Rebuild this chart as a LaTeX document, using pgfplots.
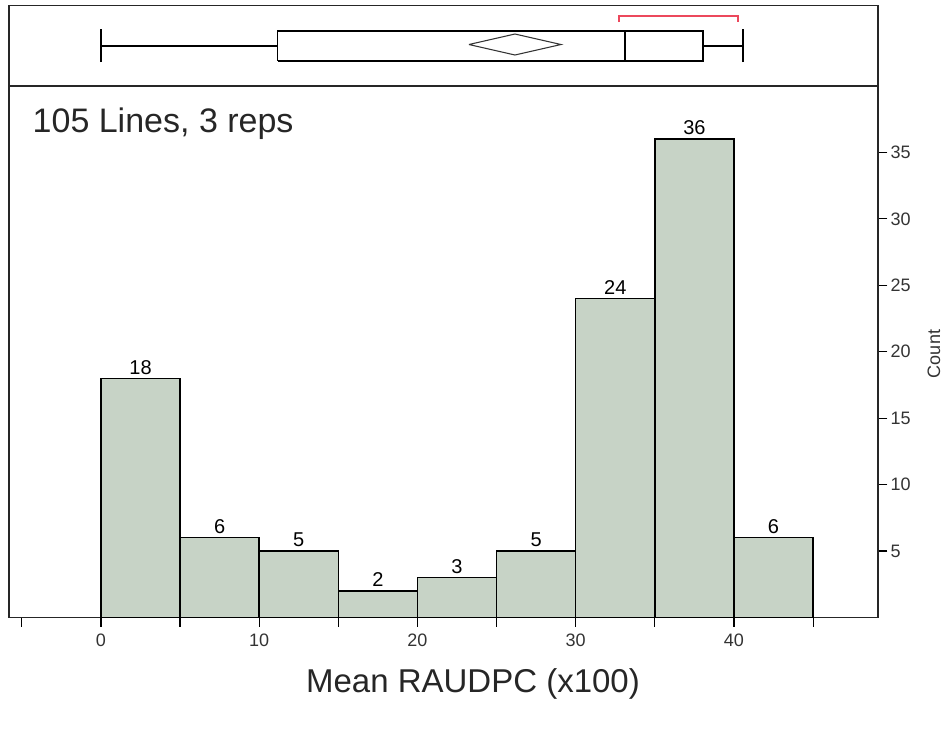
\documentclass[border=0pt]{standalone}
\usepackage{fontspec}
\setmainfont{Liberation Sans}
\usepackage{pgfplots}
\pgfplotsset{compat=1.18}
\definecolor{bargreen}{RGB}{199,211,198}
\definecolor{brk}{RGB}{236,72,92}
\newcommand\fs[1]{\fontsize{#1}{#1}\selectfont}

\begin{document}
\begin{tikzpicture}
\path[use as bounding box] (0,0) rectangle (710.25pt,549pt);

% histogram panel
\begin{axis}[
    at={(6.75pt,85.9pt)}, anchor=south west,
    width=651.75pt, height=398.6pt, scale only axis,
    xmin=-5.81, xmax=49.1, ymin=0, ymax=40,
    axis line style={black!85, line width=0.9pt},
    xtick={-5,0,...,45},
    xticklabels={,0,,10,,20,,30,,40,},
    ytick={5,10,...,35},
    xtick pos=bottom, ytick pos=right, yticklabel pos=right,
    tick align=outside, major tick length=7pt,
    tick style={black, line width=0.9pt},
    ticklabel style={font=\fs{13.5}, text=black!80},
    xticklabel style={yshift=-2pt},
    yticklabel style={xshift=-1pt},
    /pgf/number format/assume math mode=true,
    ybar, bar width=5, bar shift=0pt,
    nodes near coords,
    every node near coord/.append style={font=\fs{15}, inner sep=2.5pt, text=black},
]
\addplot[fill=bargreen, draw=black, line width=1.1pt] coordinates {
    (2.5,18)(7.5,6)(12.5,5)(17.5,2)(22.5,3)(27.5,5)(32.5,24)(37.5,36)(42.5,6)
};
\end{axis}

% box plot panel
\begin{axis}[
    at={(6.75pt,484.5pt)}, anchor=south west,
    width=651.75pt, height=60.2pt, scale only axis,
    xmin=-5.81, xmax=49.1, ymin=0, ymax=80.3,
    xtick=\empty, ytick=\empty,
    axis line style={black!85, line width=0.9pt},
]
\addplot[black, line width=0.9pt] coordinates {(0,40)(11.18,40)};
\addplot[black, line width=0.9pt] coordinates {(38.04,40)(40.57,40)};
\addplot[black, line width=0.9pt] coordinates {(0,24)(0,57)};
\addplot[black, line width=0.9pt] coordinates {(40.57,24)(40.57,57)};
\addplot[black, line width=0.9pt] coordinates {(11.18,25)(38.04,25)(38.04,55)(11.18,55)(11.18,25)};
\addplot[black, line width=0.9pt] coordinates {(33.11,25)(33.11,55)};
\addplot[black!80, line width=0.8pt] coordinates {(23.25,41.5)(26.16,52)(29.07,41.5)(26.16,31)(23.25,41.5)};
\addplot[brk, line width=0.9pt] coordinates {(32.73,64)(32.73,70)(40.25,70)(40.25,64)};
\end{axis}

\node[anchor=base west, font=\fs{25.5}, text=black!85] at (21pt,449.25pt) {105 Lines, 3 reps};
\node[anchor=base, font=\fs{24.75}, text=black!85] at (354.75pt,29.25pt) {Mean RAUDPC (x100)};
\node[rotate=90, font=\fs{13.5}, text=black!80] at (700.5pt,283.5pt) {Count};
\end{tikzpicture}
\end{document}
